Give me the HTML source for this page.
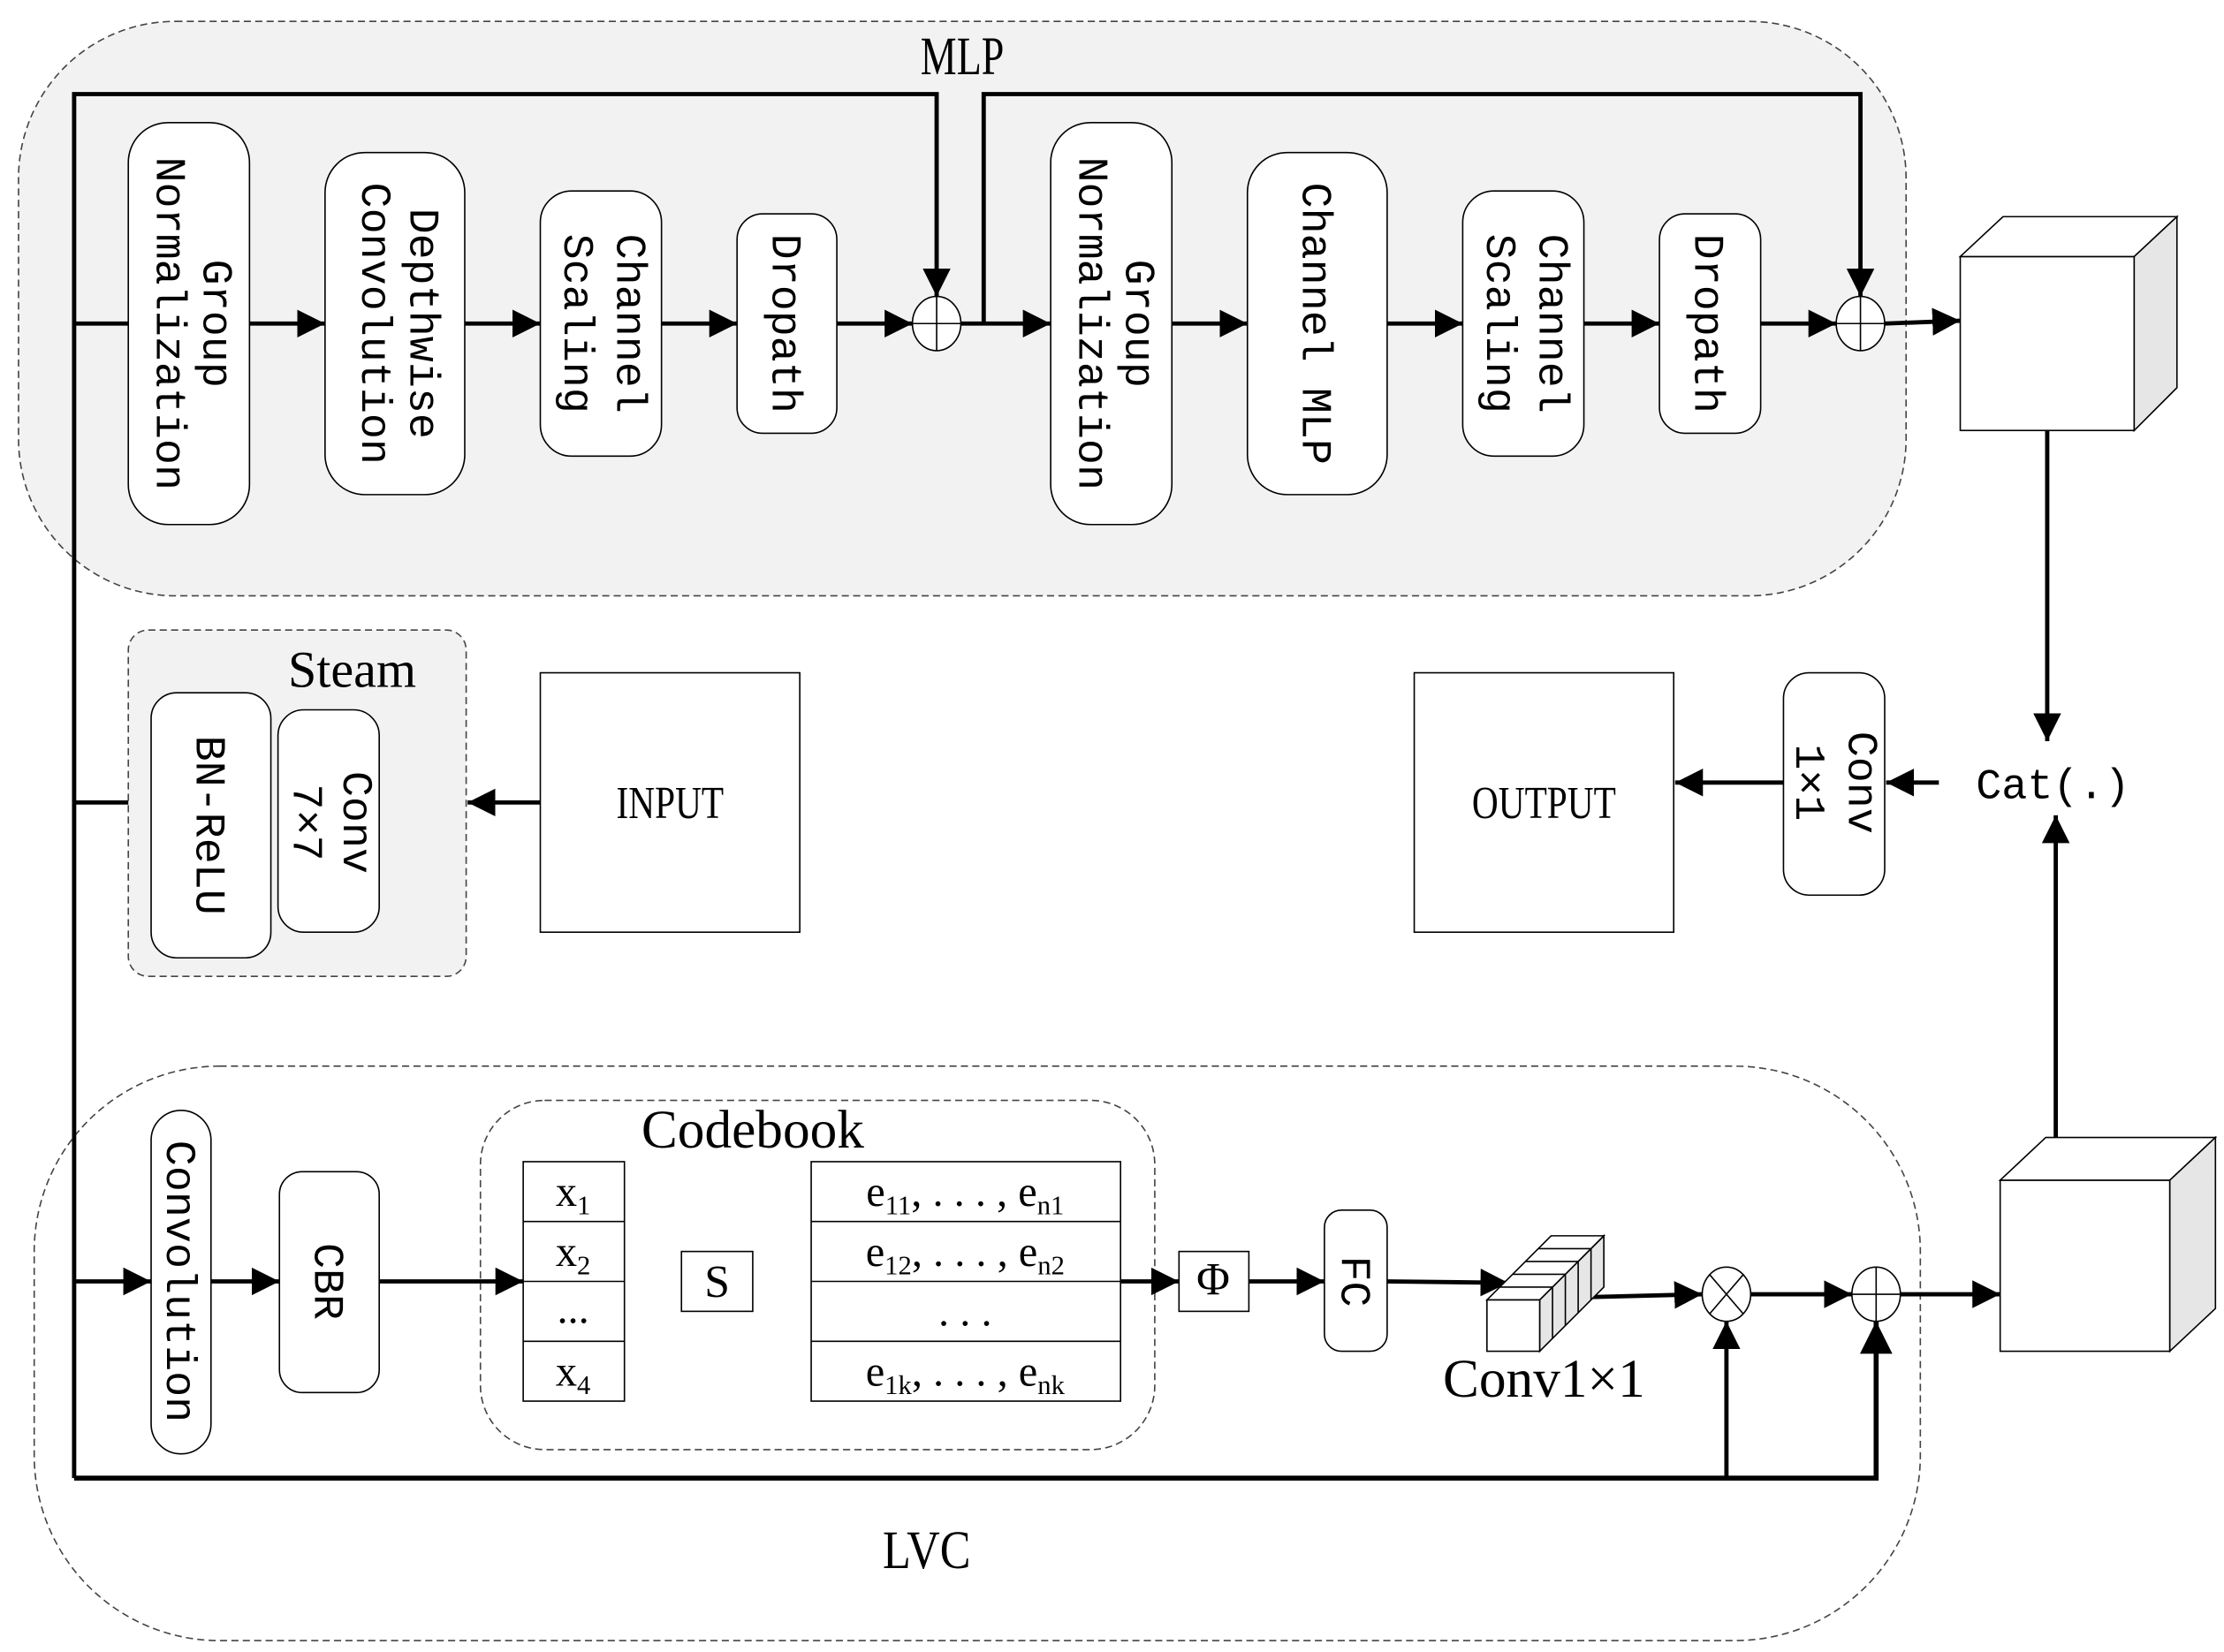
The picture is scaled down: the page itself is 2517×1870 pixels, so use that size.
<!DOCTYPE html>
<html><head><meta charset="utf-8"><style>html,body{margin:0;padding:0;background:#fff}svg{display:block}</style></head><body>
<svg width="2517" height="1870" viewBox="0 0 1560 1159" xmlns="http://www.w3.org/2000/svg">
<defs>
<marker id="a" viewBox="0 0 10 10" refX="10" refY="5" markerWidth="6.5" markerHeight="7" orient="auto" markerUnits="strokeWidth"><path d="M0,0L10,5L0,10z" fill="#000"/></marker>
</defs>
<g font-family="Liberation Mono, monospace" fill="#000">
<rect x="13" y="15" width="1324" height="403" rx="110" fill="#f2f2f2" stroke="#444" stroke-width="1" stroke-dasharray="5,3"/>
<text x="675" y="52" font-family="Liberation Serif, serif" font-size="38" text-anchor="middle" transform="translate(675,0) scale(0.75,1) translate(-675,0)">MLP</text>
<rect x="90" y="442" width="237" height="243" rx="14" fill="#f2f2f2" stroke="#444" stroke-dasharray="5,3"/>
<text x="247" y="482" font-family="Liberation Serif, serif" font-size="36" text-anchor="middle">Steam</text>
<rect x="24" y="748" width="1323" height="403" rx="130" fill="none" stroke="#444" stroke-dasharray="5,3"/>
<text x="650" y="1100" font-family="Liberation Serif, serif" font-size="38" text-anchor="middle" transform="translate(650,0) scale(0.85,1) translate(-650,0)">LVC</text>
<rect x="337" y="772" width="473" height="245" rx="45" fill="none" stroke="#444" stroke-dasharray="5,3"/>
<text x="528" y="805" font-family="Liberation Serif, serif" font-size="38" text-anchor="middle">Codebook</text>

<g stroke="#000" stroke-width="3" fill="none">
<polyline points="52,1037 52,66 657,66 657,208" marker-end="url(#a)"/>
<polyline points="690,227 690,66 1305,66 1305,208" marker-end="url(#a)"/>
<line x1="52" y1="227" x2="90" y2="227"/>
<line x1="175" y1="227" x2="228" y2="227" marker-end="url(#a)"/>
<line x1="326" y1="227" x2="379" y2="227" marker-end="url(#a)"/>
<line x1="464" y1="227" x2="517" y2="227" marker-end="url(#a)"/>
<line x1="587" y1="227" x2="640" y2="227" marker-end="url(#a)"/>
<line x1="674" y1="227" x2="737" y2="227" marker-end="url(#a)"/>
<line x1="822" y1="227" x2="875" y2="227" marker-end="url(#a)"/>
<line x1="973" y1="227" x2="1026" y2="227" marker-end="url(#a)"/>
<line x1="1111" y1="227" x2="1164" y2="227" marker-end="url(#a)"/>
<line x1="1235" y1="227" x2="1288" y2="227" marker-end="url(#a)"/>
<line x1="1322" y1="227" x2="1375" y2="225" marker-end="url(#a)"/>
<line x1="1436" y1="302" x2="1436" y2="520" marker-end="url(#a)"/>
<line x1="1442" y1="815" x2="1442" y2="572" marker-end="url(#a)"/>
<line x1="1360" y1="549" x2="1323" y2="549" marker-end="url(#a)"/>
<line x1="1251" y1="549" x2="1175" y2="549" marker-end="url(#a)"/>
<line x1="379" y1="563" x2="328" y2="563" marker-end="url(#a)"/>
<line x1="52" y1="563" x2="90" y2="563"/>
<line x1="52" y1="899" x2="106" y2="899" marker-end="url(#a)"/>
<line x1="148" y1="899" x2="196" y2="899" marker-end="url(#a)"/>
<line x1="266" y1="899" x2="367" y2="899" marker-end="url(#a)"/>
<line x1="786" y1="899" x2="827" y2="899" marker-end="url(#a)"/>
<line x1="876" y1="899" x2="929" y2="899" marker-end="url(#a)"/>
<line x1="973" y1="899" x2="1058" y2="900" marker-end="url(#a)"/>
<line x1="1115" y1="910" x2="1194" y2="908" marker-end="url(#a)"/>
<line x1="1228" y1="908" x2="1299" y2="908" marker-end="url(#a)"/>
<line x1="1333" y1="908" x2="1403" y2="908" marker-end="url(#a)"/>
<polyline points="52,1037 1316,1037 1316,927" marker-end="url(#a)" stroke-width="3.5"/>
<line x1="1211" y1="1037" x2="1211" y2="927" marker-end="url(#a)"/>
</g>

<g stroke="#000" stroke-width="1" fill="#fff">
<rect x="90" y="86" width="85" height="282" rx="28"/>
<rect x="228" y="107" width="98" height="240" rx="28"/>
<rect x="379" y="134" width="85" height="186" rx="22"/>
<rect x="517" y="150" width="70" height="154" rx="18"/>
<rect x="737" y="86" width="85" height="282" rx="28"/>
<rect x="875" y="107" width="98" height="240" rx="28"/>
<rect x="1026" y="134" width="85" height="186" rx="22"/>
<rect x="1164" y="150" width="71" height="154" rx="18"/>
<ellipse cx="657" cy="227" rx="17" ry="19"/><path d="M640,227H674M657,208V246" fill="none"/>
<ellipse cx="1305" cy="227" rx="17" ry="19"/><path d="M1288,227H1322M1305,208V246" fill="none"/>
<rect x="1375" y="180" width="122" height="122"/>
<path d="M1375,180L1405,152H1527L1497,180Z"/>
<path d="M1497,180L1527,152V272L1497,302Z" fill="#e6e6e6"/>
<rect x="1251" y="472" width="71" height="156" rx="18"/>
<rect x="992" y="472" width="182" height="182"/>
<rect x="379" y="472" width="182" height="182"/>
<rect x="106" y="486" width="84" height="186" rx="18"/>
<rect x="195" y="498" width="71" height="156" rx="18"/>
<rect x="106" y="779" width="42" height="241" rx="21"/>
<rect x="196" y="822" width="70" height="155" rx="16"/>
<rect x="367" y="815" width="71" height="168"/>
<path d="M367,857H438M367,899H438M367,941H438" fill="none"/>
<rect x="478" y="878" width="50" height="42"/>
<rect x="569" y="815" width="217" height="168"/>
<path d="M569,857H786M569,899H786M569,941H786" fill="none"/>
<rect x="827" y="878" width="49" height="42"/>
<rect x="929" y="849" width="44" height="99" rx="12"/>
<ellipse cx="1211" cy="908" rx="17" ry="19"/><path d="M1199,894L1223,922M1223,894L1199,922" fill="none"/>
<ellipse cx="1316" cy="908" rx="17" ry="19"/><path d="M1299,908H1333M1316,889V927" fill="none"/>
<rect x="1403" y="828" width="119" height="120"/>
<path d="M1403,828L1435,798H1554L1522,828Z"/>
<path d="M1522,828L1554,798V918L1522,948Z" fill="#e6e6e6"/>
<path d="M1080,912L1125,867V903L1080,948Z" fill="#e6e6e6"/>
<path d="M1043,912L1088,867H1125L1080,912Z"/>
<path d="M1052,903H1089M1061,894H1098M1070,885H1107M1079,876H1116" fill="none"/>
<path d="M1089,903V939M1098,894V930M1107,885V921M1116,876V912" fill="none"/>
<rect x="1043" y="912" width="37" height="36"/>
</g>

<g font-size="30">
<text transform="translate(143,227) rotate(90)" text-anchor="middle">Group</text>
<text transform="translate(110,227) rotate(90)" text-anchor="middle">Normalization</text>
<text transform="translate(288,227) rotate(90)" text-anchor="middle">Depthwise</text>
<text transform="translate(254,227) rotate(90)" text-anchor="middle">Convolution</text>
<text transform="translate(433,227) rotate(90)" text-anchor="middle">Channel</text>
<text transform="translate(396,227) rotate(90)" text-anchor="middle">Scaling</text>
<text transform="translate(542,227) rotate(90)" text-anchor="middle">Dropath</text>
<text transform="translate(790,227) rotate(90)" text-anchor="middle">Group</text>
<text transform="translate(757,227) rotate(90)" text-anchor="middle">Normalization</text>
<text transform="translate(914,227) rotate(90)" text-anchor="middle">Channel MLP</text>
<text transform="translate(1080,227) rotate(90)" text-anchor="middle">Channel</text>
<text transform="translate(1043,227) rotate(90)" text-anchor="middle">Scaling</text>
<text transform="translate(1189,227) rotate(90)" text-anchor="middle">Dropath</text>
<text transform="translate(1297,549) rotate(90)" text-anchor="middle">Conv</text>
<text transform="translate(1260,549) rotate(90)" text-anchor="middle">1×1</text>
<text transform="translate(241,577) rotate(90)" text-anchor="middle">Conv</text>
<text transform="translate(206,577) rotate(90)" text-anchor="middle">7×7</text>
<text transform="translate(138,579) rotate(90)" text-anchor="middle">BN-ReLU</text>
<text transform="translate(117,899) rotate(90)" text-anchor="middle">Convolution</text>
<text transform="translate(221,899) rotate(90)" text-anchor="middle">CBR</text>
<text transform="translate(941,899) rotate(90)" text-anchor="middle">FC</text>
<text x="1440" y="560" text-anchor="middle">Cat(.)</text>
</g>
<g font-family="Liberation Serif, serif" font-size="32" text-anchor="middle">
<text x="470" y="574" transform="translate(470,0) scale(0.8,1) translate(-470,0)">INPUT</text>
<text x="1083" y="574" transform="translate(1083,0) scale(0.8,1) translate(-1083,0)">OUTPUT</text>
<text x="503" y="910">S</text>
<text x="851" y="908">Φ</text>
<text x="1083" y="980" font-size="38">Conv1×1</text>
<text x="402" y="846" font-size="30">x<tspan font-size="19" dy="6">1</tspan></text>
<text x="402" y="888" font-size="30">x<tspan font-size="19" dy="6">2</tspan></text>
<text x="402" y="928" font-size="30">...</text>
<text x="402" y="972" font-size="30">x<tspan font-size="19" dy="6">4</tspan></text>
<text x="677" y="846" font-size="30">e<tspan font-size="19" dy="6">11</tspan><tspan dy="-6">, . . . , e</tspan><tspan font-size="19" dy="6">n1</tspan></text>
<text x="677" y="888" font-size="30">e<tspan font-size="19" dy="6">12</tspan><tspan dy="-6">, . . . , e</tspan><tspan font-size="19" dy="6">n2</tspan></text>
<text x="677" y="930" font-size="30">. . .</text>
<text x="677" y="972" font-size="30">e<tspan font-size="19" dy="6">1k</tspan><tspan dy="-6">, . . . , e</tspan><tspan font-size="19" dy="6">nk</tspan></text>
</g>
</g>
</svg>
</body></html>
